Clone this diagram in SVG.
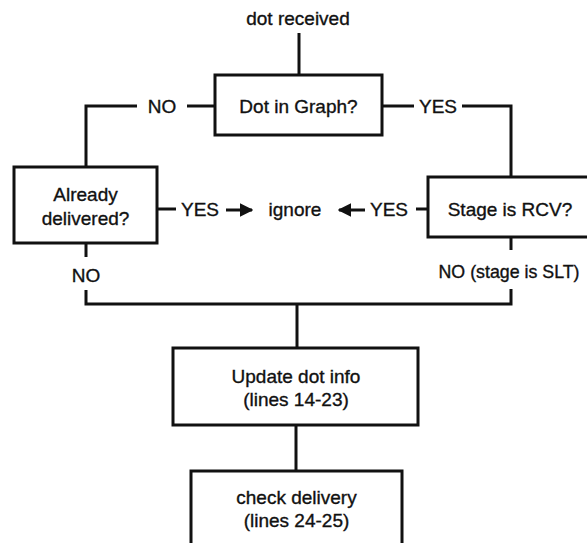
<svg xmlns="http://www.w3.org/2000/svg" width="587" height="543" viewBox="0 0 587 543">
  <defs>
    <style>
      .box { fill: #ffffff; stroke: #111111; stroke-width: 3; }
      .wire { fill: none; stroke: #111111; stroke-width: 3; stroke-linecap: butt; stroke-linejoin: miter; }
      text { font-family: "Liberation Sans", Arial, sans-serif; font-size: 19px; fill: #111111; stroke: #111111; stroke-width: 0.35; text-anchor: middle; }
      .tight { font-size: 17.8px; }
    </style>
    <marker id="head" viewBox="0 0 10 10" refX="9" refY="5" markerWidth="4.6" markerHeight="4.6" markerUnits="strokeWidth" orient="auto">
      <path d="M0,0 L10,5 L0,10 Z" fill="#111111"/>
    </marker>
  </defs>
  <rect width="587" height="543" fill="#ffffff"/>

  <!-- connectors and their branch labels -->
  <g id="connectors">
    <path class="wire" d="M299,33 V75"/>
    <path class="wire" d="M215,106 H187"/>
    <path class="wire" d="M137,106 H86 V167"/>
    <path class="wire" d="M382,106 H414"/>
    <path class="wire" d="M462,106 H511 V177"/>
    <path class="wire" d="M157,209 H176"/>
    <path class="wire" d="M226,210 H252" marker-end="url(#head)"/>
    <path class="wire" d="M365,210 H339" marker-end="url(#head)"/>
    <path class="wire" d="M428,209 H416"/>
    <path class="wire" d="M86,243 V257"/>
    <path class="wire" d="M511,237 V250"/>
    <path class="wire" d="M86,290 V304 H511 V289"/>
    <path class="wire" d="M297,304 V348"/>
    <path class="wire" d="M296,425 V471"/>
    <text x="162" y="112.5">NO</text>
    <text x="438" y="112.5">YES</text>
    <text x="200" y="215.5">YES</text>
    <text x="295" y="215.5">ignore</text>
    <text x="389" y="215.5">YES</text>
    <text x="86" y="281.5">NO</text>
    <text class="tight" x="509" y="277.5">NO (stage is SLT)</text>
  </g>

  <g id="start">
    <text x="298" y="24.5">dot received</text>
  </g>

  <g id="dot-in-graph">
    <rect class="box" x="215" y="75" width="167" height="60"/>
    <text x="298.5" y="112.5">Dot in Graph?</text>
  </g>

  <g id="already-delivered">
    <rect class="box" x="14" y="167" width="143" height="76"/>
    <text x="85.5" y="200.5">Already</text>
    <text x="85.5" y="224.5">delivered?</text>
  </g>

  <g id="stage-rcv">
    <rect class="box" x="428" y="177" width="164" height="60"/>
    <text x="510" y="215.5">Stage is RCV?</text>
  </g>

  <g id="update-dot-info">
    <rect class="box" x="173" y="348" width="245" height="77"/>
    <text x="296" y="382.5">Update dot info</text>
    <text x="296" y="405.5">(lines 14-23)</text>
  </g>

  <g id="check-delivery">
    <rect class="box" x="191" y="471" width="211" height="80"/>
    <text x="296.5" y="503.5">check delivery</text>
    <text x="296.5" y="526.5">(lines 24-25)</text>
  </g>
</svg>
